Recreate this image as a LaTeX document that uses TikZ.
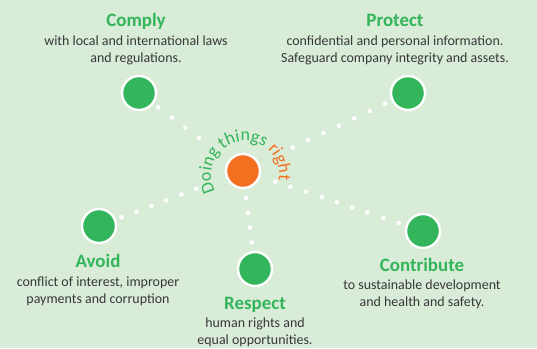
\documentclass[tikz,border=0pt]{standalone}
\usepackage{fontspec}
\setmainfont{Carlito}
\usetikzlibrary{positioning,calc,decorations.text}

\definecolor{pageBg}{RGB}{217,236,216}
\definecolor{doGreen}{RGB}{51,181,91}
\definecolor{doOrange}{RGB}{243,112,33}
\definecolor{doText}{RGB}{55,55,55}

\begin{document}
\begin{tikzpicture}[x=1bp,y=1bp]
  \tikzstyle{hub} = [circle, draw=white, line width=2.4bp, fill=doOrange, minimum size=34bp, inner sep=0pt]
  \tikzstyle{spoke} = [hub, fill=doGreen]
  \tikzstyle{heading} = [anchor=base, inner sep=0pt, text=doGreen, font={\fontsize{19}{20}\selectfont\bfseries}]
  \tikzstyle{blurb} = [anchor=base, inner sep=0pt, align=center, text=doText, font={\fontsize{14}{17}\selectfont}]
  \tikzstyle{dot} = [fill=white]

  \fill[pageBg] (0,0) rectangle (537,348);
  \useasboundingbox (0,0) rectangle (537,348);

  % circles
  \node[hub]   (hub)        at (243,177) {};
  \node[spoke] (comply)     at (139,255) {};
  \node[spoke] (protect)    at (408,255) {};
  \node[spoke] (avoid)      at (99,122)  {};
  \node[spoke] (respect)    at (255,79)  {};
  \node[spoke] (contribute) at (423,117) {};

  % dotted rays
  \foreach \d in {55,72,89,106}
    \fill[dot] ($(hub)!\d bp!(comply)$) circle (2.3bp);
  \foreach \d in {55,72,89,106,123,140,157}
    \fill[dot] ($(hub)!\d bp!(protect)$) circle (2.3bp);
  \foreach \d in {50,66,82,98,114,130}
    \fill[dot] ($(hub)!\d bp!(avoid)$) circle (2.3bp);
  \foreach \d in {27,42,57,72}
    \fill[dot] ($(hub)!\d bp!(respect)$) circle (2.3bp);
  \foreach \d in {34,50,66,83,99,115,131,148,164}
    \fill[dot] ($(hub)!\d bp!(contribute)$) circle (2.3bp);

  % motto round the hub
  \path[decorate, decoration={text along path, text align=center,
      text={|\fontsize{18}{18}\selectfont\color{doGreen}|Doing things |+\color{doOrange}|right}}]
    (245,173) ++(220:34bp) arc[start angle=220, end angle=-20, radius=34bp];

  % labels (a blurb's base is its last line)
  \node[heading] (complyT) at (136,321.5) {Comply};
  \node[blurb, below=35.5bp of complyT.base, anchor=base] {with local and international laws\\and regulations.};
  \node[heading] (protectT) at (395,321.5) {Protect};
  \node[blurb, below=35.5bp of protectT.base, anchor=base] {confidential and personal information.\\Safeguard company integrity and assets.};
  \node[heading] (avoidT) at (98,81) {Avoid};
  \node[blurb, below=36.5bp of avoidT.base, anchor=base] {conflict of interest, improper\\payments and corruption};
  \node[heading] (respectT) at (255,39) {Respect};
  \node[blurb, below=35bp of respectT.base, anchor=base] {human rights and\\equal opportunities.};
  \node[heading] (contributeT) at (422,77) {Contribute};
  \node[blurb, below=35bp of contributeT.base, anchor=base] {to sustainable development\\and health and safety.};
\end{tikzpicture}
\end{document}
